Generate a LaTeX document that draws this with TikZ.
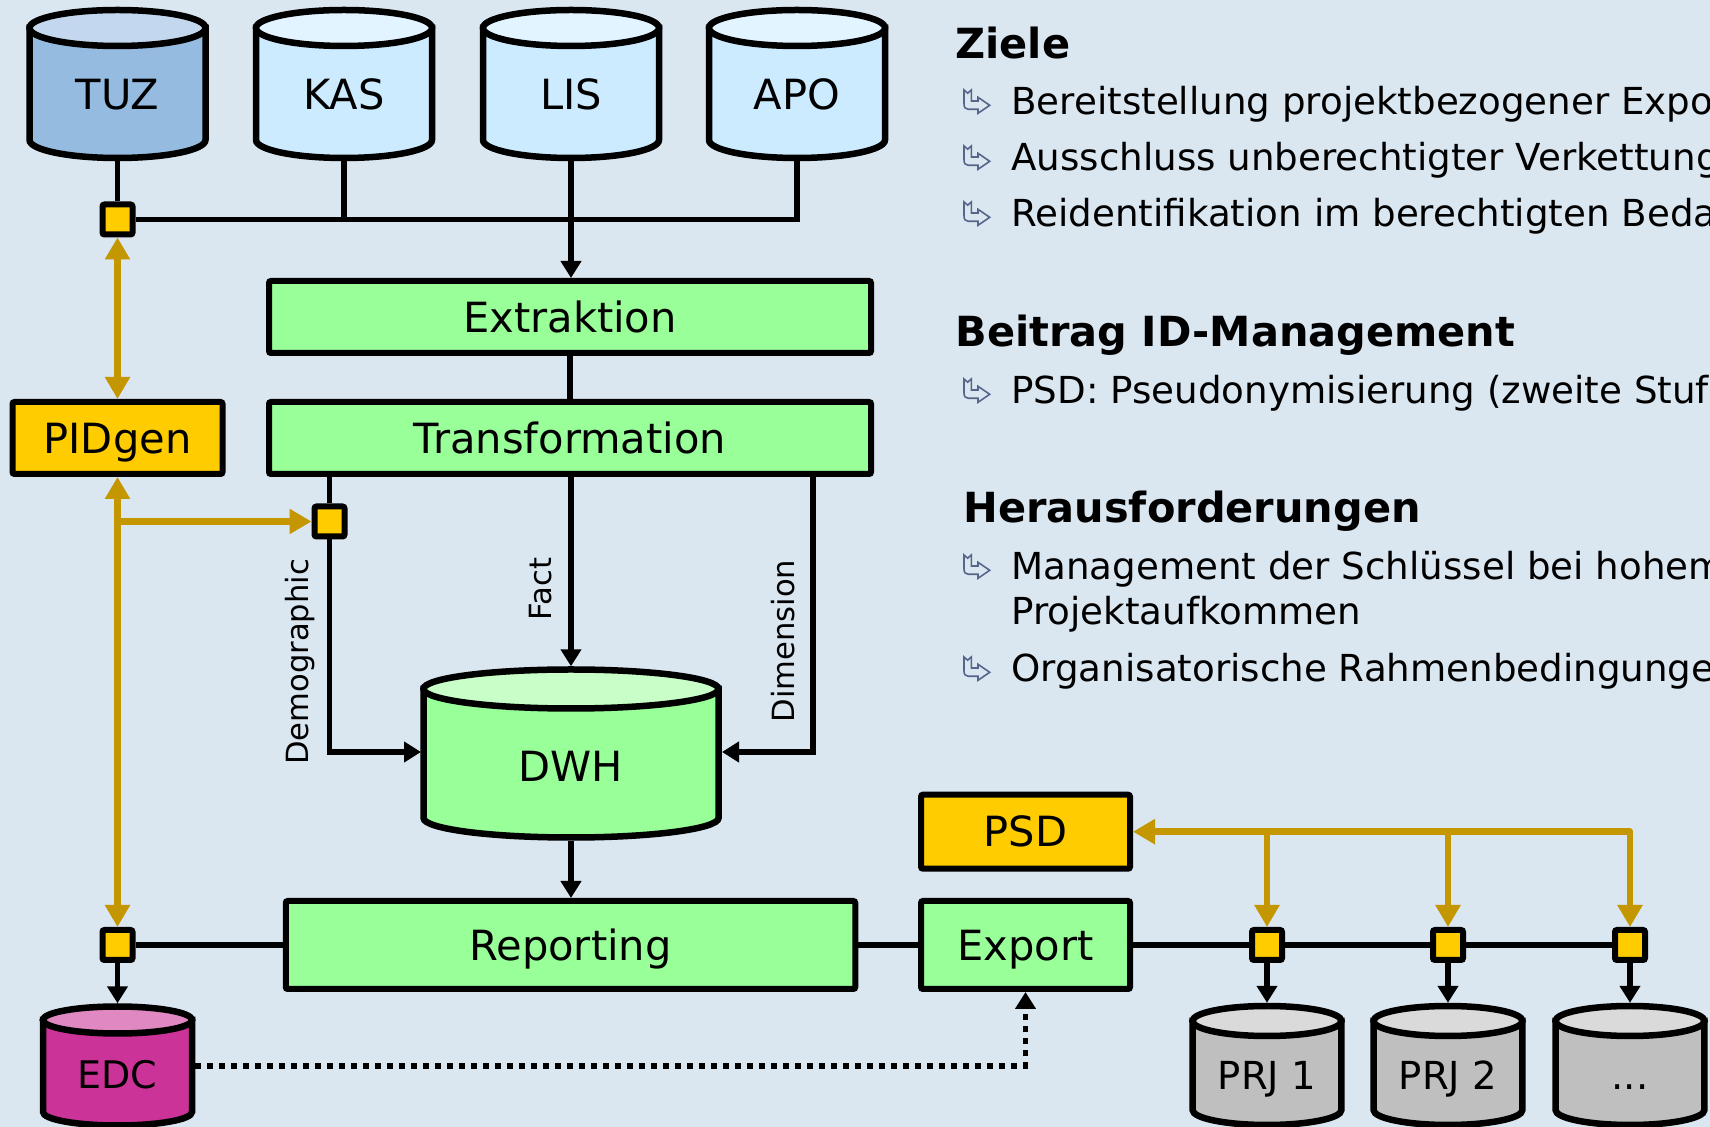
\documentclass[tikz,border=0pt]{standalone}
\usepackage{fontspec}
\setmainfont{DejaVu Sans}
\usetikzlibrary{arrows.meta}
\definecolor{bg}{HTML}{DAE6F0}
\definecolor{boxgreen}{HTML}{99FF99}
\definecolor{yel}{HTML}{FFCC00}
\definecolor{gold}{HTML}{C49600}
\definecolor{tuzbody}{HTML}{95BBE1}
\definecolor{tuztop}{HTML}{C3D8EE}
\definecolor{srcbody}{HTML}{CCEBFF}
\definecolor{srctop}{HTML}{E2F4FF}
\definecolor{dwhbody}{HTML}{99FF99}
\definecolor{dwhtop}{HTML}{C8FFC8}
\definecolor{edcbody}{HTML}{CC3399}
\definecolor{edctop}{HTML}{E088C2}
\definecolor{prjbody}{HTML}{BFBFBF}
\definecolor{prjtop}{HTML}{DADADA}
\definecolor{bulletc}{HTML}{56668A}

\tikzset{
  greenbox/.style={draw=black, line width=3pt, fill=boxgreen, inner sep=0pt,
    rounded corners=1pt,
    font=\fontsize{20.8}{24}\selectfont, text height=15.2pt, text depth=0pt},
  yelbox/.style={greenbox, fill=yel},
  junction/.style={draw=black, line width=3pt, fill=yel, minimum size=15pt,
    inner sep=0pt, rounded corners=1pt},
  conn/.style={draw=black, line width=2.6pt},
  arr/.style={conn, arrows={-Triangle[length=8.5pt,width=10pt]}},
  dotarr/.style={conn, line width=2.6pt, dash pattern=on 3pt off 3pt,
    arrows={-Triangle[length=8.5pt,width=10pt]}},
  goldline/.style={draw=gold, line width=3.25pt, line join=round},
  goldend/.style={goldline, arrows={-Triangle[length=11pt,width=12pt]}},
  goldboth/.style={goldline, arrows={Triangle[length=11pt,width=12pt]-Triangle[length=11pt,width=12pt]}},
  cyltext/.style={inner sep=0pt, text depth=0pt},
  tuztext/.style={font=\fontsize{20.8}{24}\selectfont, text height=15.2pt},
  srctext/.style={font=\fontsize{20.8}{24}\selectfont, text height=15.2pt},
  dwhtext/.style={font=\fontsize{20.8}{24}\selectfont, text height=15.2pt},
  edctext/.style={font=\fontsize{19}{22}\selectfont, text height=13.9pt},
  prjtext/.style={font=\fontsize{19.3}{22}\selectfont, text height=14.1pt},
  lbl/.style={inner sep=0pt, font=\fontsize{15.3}{18}\selectfont},
  head/.style={inner sep=0pt, anchor=base west, font=\fontsize{20.75}{24}\selectfont\bfseries},
  body/.style={inner sep=0pt, anchor=base west, font=\fontsize{18.6}{22}\selectfont},
  bulletstyle/.style={draw=bulletc, line width=0.8pt, line join=miter},
}

% cylinder: name, cx, yt, yb, hw, ry, colour key, text y, text
\newcommand\dbcyl[9]{%
  \path[draw=black, line width=3.25pt, fill=#7body]
    ({#2-#5},#3) -- ({#2-#5},#4)
    .. controls ({#2-#5},{#4+0.5523*#6}) and ({#2-0.5523*#5},{#4+#6}) .. (#2,{#4+#6})
    .. controls ({#2+0.5523*#5},{#4+#6}) and ({#2+#5},{#4+0.5523*#6}) .. ({#2+#5},#4)
    -- ({#2+#5},#3) -- cycle;
  \path[draw=black, line width=3.25pt, fill=#7top]
    ({#2-#5},#3)
    .. controls ({#2-#5},{#3-0.5523*#6}) and ({#2-0.5523*#5},{#3-#6}) .. (#2,{#3-#6})
    .. controls ({#2+0.5523*#5},{#3-#6}) and ({#2+#5},{#3-0.5523*#6}) .. ({#2+#5},#3)
    .. controls ({#2+#5},{#3+0.5523*#6}) and ({#2+0.5523*#5},{#3+#6}) .. (#2,{#3+#6})
    .. controls ({#2-0.5523*#5},{#3+#6}) and ({#2-#5},{#3+0.5523*#6}) .. ({#2-#5},#3)
    -- cycle;
  \coordinate (#1-top) at (#2,{#3-#6-3.2});
  \coordinate (#1-bot) at (#2,{#4+#6+3.2});
  \node[cyltext, #7text] (#1) at (#2,#8) {#9};
}

\newcommand\bul[1]{%
  \draw[bulletstyle, shift={(964,{#1-25})}]
    (0,0) -- (0,14) .. controls (0,17.5) and (1.5,19.3) .. (4.5,19.3)
    -- (14,19.3) -- (14,23.3) -- (25.7,15.3) -- (14,7.3) -- (14,11)
    -- (7.3,11) -- (7.3,0) -- (3.65,3.2) -- cycle;
}

\begin{document}
\begin{tikzpicture}[x=0.5pt, y=-0.5pt]
\useasboundingbox (0,0) rectangle (1710,1127);
\clip (0,0) rectangle (1710,1127);
\fill[bg] (0,0) rectangle (1710,1127);

% ---------- source databases ----------
\dbcyl{TUZ}{117.5}{28}{140}{88}{18}{tuz}{94.5}{TUZ}
\dbcyl{KAS}{344}{28}{140}{88}{18}{src}{94.5}{KAS}
\dbcyl{LIS}{571}{28}{140}{88}{18}{src}{94.5}{LIS}
\dbcyl{APO}{797}{28}{140}{88}{18}{src}{94.5}{APO}

\node[junction] (sqT) at (117.5,219.5) {};
\draw[conn] (TUZ-bot) -- (sqT.north);
\draw[conn] (sqT.east) -- (sqT.east -| APO-bot) -- (APO-bot);
\draw[conn] (KAS-bot) -- (KAS-bot |- sqT.east);

% ---------- ETL boxes ----------
\node[greenbox, minimum width=301pt, minimum height=36pt] (Extr) at (570,317) {Extraktion};
\node[greenbox, minimum width=301pt, minimum height=36pt] (Trans) at (570,438) {Transformation};
\node[yelbox, minimum width=105pt, minimum height=36pt] (PID) at (117.5,438) {PIDgen};

\draw[arr] (LIS-bot) -- (LIS-bot |- Extr.north);
\draw[conn] (Extr.south) -- (Trans.north);

% ---------- DWH ----------
\dbcyl{DWH}{571}{689}{818}{147.5}{19.5}{dwh}{766.7}{DWH}
\coordinate (DWH-l) at (421,752);
\coordinate (DWH-r) at (722,752);
\coordinate (dimx) at (813,752);

\node[junction] (sqD) at (329.5,521.5) {};
\draw[conn] (Trans.south -| sqD) -- (sqD.north);
\draw[arr] (sqD.south) -- (sqD.south |- DWH-l) -- (DWH-l);
\draw[arr] (Trans.south -| DWH-top) -- (DWH-top);
\draw[arr] (Trans.south -| dimx) -- (dimx) -- (DWH-r);

\node[lbl, rotate=90] (ldem) at (300,662) {Demographic};
\node[lbl, rotate=90] (lfact) at (541,589) {Fact};
\node[lbl, rotate=90] (ldim) at (783,641) {Dimension};

% ---------- reporting / export ----------
\node[greenbox, minimum width=284.75pt, minimum height=44pt] (Rep) at (570.5,945) {Reporting};
\node[greenbox, minimum width=104.5pt, minimum height=44pt] (Exp) at (1025.5,945) {Export};
\node[yelbox, minimum width=104.5pt, minimum height=37pt] (PSD) at (1025.5,831.7) {PSD};

\draw[arr] (DWH-bot) -- (DWH-bot |- Rep.north);

\node[junction] (sqB) at (117.5,945) {};
\node[junction] (sqP1) at (1267,945) {};
\node[junction] (sqP2) at (1448,945) {};
\node[junction] (sqP3) at (1630,945) {};

\draw[conn] (sqB.east) -- (Rep.west);
\draw[conn] (Rep.east) -- (Exp.west);
\draw[conn] (Exp.east) -- (sqP1.west);
\draw[conn] (sqP1.east) -- (sqP2.west);
\draw[conn] (sqP2.east) -- (sqP3.west);

% ---------- EDC and projects ----------
\dbcyl{EDC}{117.5}{1020}{1112}{74.5}{13.5}{edc}{1075}{EDC}
\coordinate (EDC-r) at (195,1066);
\draw[arr] (sqB.south) -- (EDC-top);
\draw[dotarr] (EDC-r) -- (EDC-r -| Exp.south) -- (Exp.south);

\dbcyl{P1}{1267}{1021}{1110}{74.4}{15}{prj}{1075}{PRJ 1}
\dbcyl{P2}{1448}{1021}{1110}{74.4}{15}{prj}{1075}{PRJ 2}
\dbcyl{P3}{1630}{1021}{1110}{74.4}{15}{prj}{1075}{...}
\draw[arr] (sqP1.south) -- (P1-top);
\draw[arr] (sqP2.south) -- (P2-top);
\draw[arr] (sqP3.south) -- (P3-top);

% ---------- gold (ID management) connectors ----------
\draw[goldboth] (sqT.south) -- (PID.north);
\draw[goldboth] (PID.south) -- (sqB.north);
\draw[goldend] (PID.south |- sqD.west) -- (sqD.west);
\draw[goldboth] (PSD.east) -- (PSD.east -| sqP3) -- (sqP3.north);
\draw[goldend] (PSD.east -| sqP1) -- (sqP1.north);
\draw[goldend] (PSD.east -| sqP2) -- (sqP2.north);

% ---------- text column ----------
\node[head] (hZiele) at (955,59) {Ziele};
\bul{115}\node[body] (z1) at (1011,115) {Bereitstellung projektbezogener Exporte};
\bul{171}\node[body] (z2) at (1011,171) {Ausschluss unberechtigter Verkettung};
\bul{227}\node[body] (z3) at (1011,227) {Reidentifikation im berechtigten Bedarfsfall};

\node[head] (hBeitrag) at (955,347) {Beitrag ID-Management};
\bul{404}\node[body] (b1) at (1011,404) {PSD: Pseudonymisierung (zweite Stufe)};

\node[head] (hHeraus) at (963,523) {Herausforderungen};
\bul{580}\node[body] (h1) at (1011,580) {Management der Schlüssel bei hohem};
\node[body] (h1b) at (1011,625) {Projektaufkommen};
\bul{682}\node[body] (h2) at (1011,682) {Organisatorische Rahmenbedingungen};
\end{tikzpicture}
\end{document}
